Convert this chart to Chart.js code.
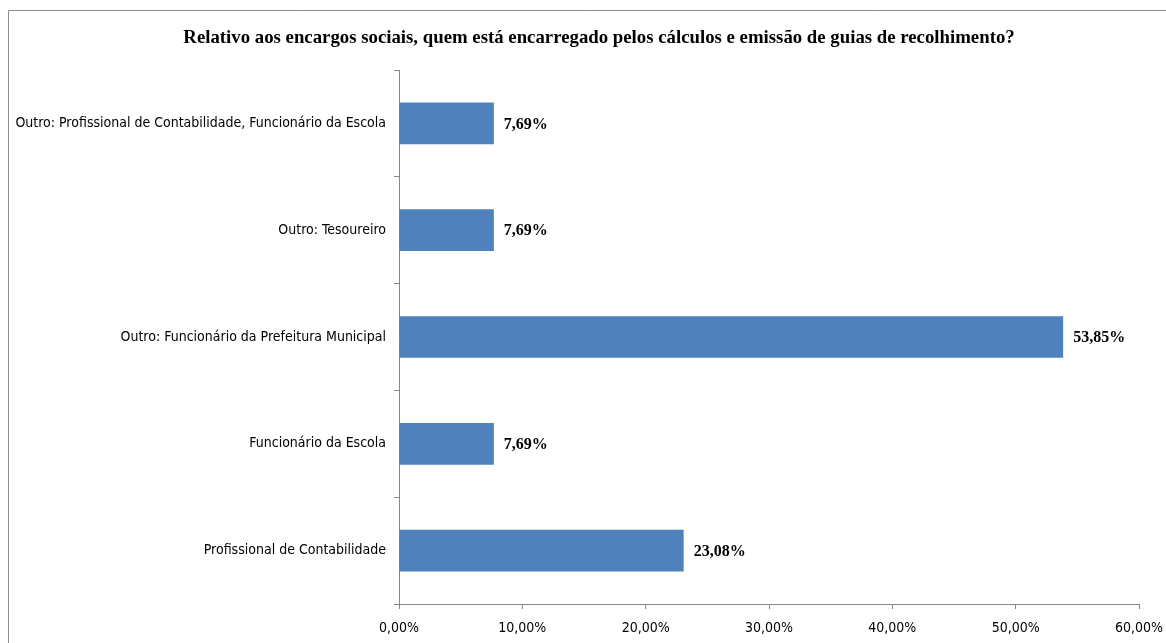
<!DOCTYPE html>
<html>
<head>
<meta charset="utf-8">
<script src="https://cdn.jsdelivr.net/npm/chart.js@4/dist/chart.umd.min.js"></script>
<style>
  html, body { margin: 0; padding: 0; background: #fff; }
  #wrap { width: 1166px; height: 643px; position: relative; }
</style>
</head>
<body>
<div id="wrap"><canvas id="grafico" width="1166" height="643"></canvas></div>
<script>
// dados do gráfico
var titulo = 'Relativo aos encargos sociais, quem está encarregado pelos cálculos e emissão de guias de recolhimento?';
var categorias = [
  'Outro: Profissional de Contabilidade, Funcionário da Escola',
  'Outro: Tesoureiro',
  'Outro: Funcionário da Prefeitura Municipal',
  'Funcionário da Escola',
  'Profissional de Contabilidade'
];
var valores = [7.69, 7.69, 53.85, 7.69, 23.08];
var eixoMin = 0, eixoMax = 60, passo = 10;

var azul = '#4F81BD';
var cinza = '#868686';
var fonteRotulos = '"Liberation Sans Narrow", "DejaVu Sans Condensed", sans-serif';
var fonteSerif = '"Liberation Serif", "Times New Roman", serif';

function formata(v){
  return v.toFixed(2).replace('.', ',') + '%';
}

// moldura, título e valores em cima das barras
var extras = {
  id: 'extras',
  beforeDraw: function(chart){
    var ctx = chart.ctx;
    ctx.save();
    ctx.strokeStyle = '#8c8c8c';
    ctx.lineWidth = 1;
    ctx.beginPath();
    ctx.moveTo(8.5, 643);
    ctx.lineTo(8.5, 10.5);
    ctx.lineTo(1166, 10.5);
    ctx.stroke();
    ctx.fillStyle = '#000';
    ctx.font = 'bold 18.8px ' + fonteSerif;
    ctx.textAlign = 'center';
    ctx.textBaseline = 'middle';
    ctx.fillText(titulo, 599, 38);
    ctx.restore();
  },
  afterDatasetsDraw: function(chart){
    var ctx = chart.ctx;
    var meta = chart.getDatasetMeta(0);
    ctx.save();
    ctx.fillStyle = '#000';
    ctx.font = 'bold 16px ' + fonteSerif;
    ctx.textAlign = 'left';
    ctx.textBaseline = 'middle';
    meta.data.forEach(function(bar, i){
      ctx.fillText(formata(valores[i]), bar.x + 10, bar.y + 1);
    });
    ctx.restore();
  }
};

var ctx = document.getElementById('grafico').getContext('2d');
var chart = new Chart(ctx, {
  type: 'bar',
  data: {
    labels: categorias,
    datasets: [{
      data: valores,
      backgroundColor: azul,
      borderWidth: 0,
      barPercentage: 0.39,
      categoryPercentage: 1
    }]
  },
  options: {
    indexAxis: 'y',
    responsive: false,
    animation: false,
    layout: { padding: { top: 70, right: 27, bottom: 0, left: 0 } },
    plugins: {
      legend: { display: false },
      title: { display: false },
      tooltip: { enabled: false }
    },
    scales: {
      x: {
        min: eixoMin,
        max: eixoMax,
        ticks: {
          stepSize: passo,
          color: '#000',
          font: { family: fonteRotulos, size: 14 },
          padding: 11,
          maxRotation: 0,
          callback: function(v){ return formata(v); }
        },
        grid: { drawOnChartArea: false, color: cinza, tickLength: 5 },
        border: { color: cinza },
        afterFit: function(s){
          s.height = 39;
          s.paddingLeft = 0;
          s.paddingRight = 0;
        }
      },
      y: {
        ticks: {
          color: '#000',
          font: { family: fonteRotulos, size: 14 },
          padding: 8
        },
        grid: { drawOnChartArea: false, offset: true, color: cinza, tickLength: 5 },
        border: { color: cinza },
        afterFit: function(s){ s.width = 399; }
      }
    }
  },
  plugins: [extras]
});
</script>
</body>
</html>
